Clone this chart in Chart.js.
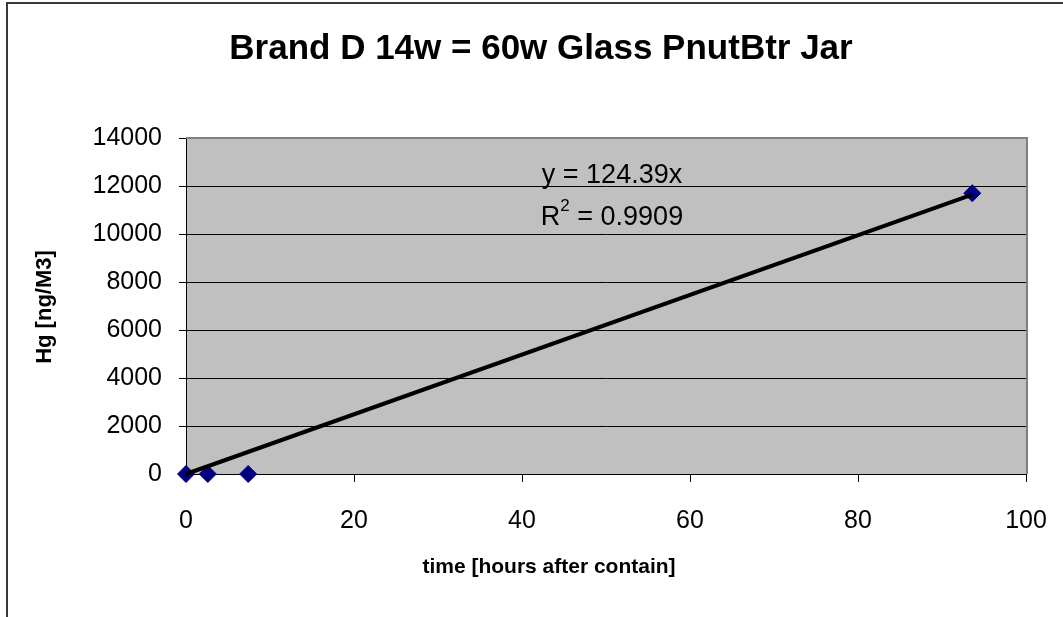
<!DOCTYPE html>
<html>
<head>
<meta charset="utf-8">
<title>Brand D 14w = 60w Glass PnutBtr Jar</title>
<script src="https://cdn.jsdelivr.net/npm/chart.js@4.4.0/dist/chart.umd.min.js"></script>
<style>
    html, body { margin: 0; padding: 0; background: #ffffff; overflow: hidden; }
    #wrap { width: 1063px; height: 617px; }
</style>
</head>
<body>
<div id="wrap"><canvas id="hgChart" width="1063" height="617"></canvas></div>
<script>
// Measured mercury vapour in the jar over time
const hoursAfterContain = [0, 2.6, 7.4, 93.6];
const hgNgM3 = [0, 0, 0, 11700];

// Linear trendline through the origin (y = slope * x)
const trendSlope = 124.39;
const trendR2 = 0.9909;

// Axis ticks
const xTickValues = [0, 20, 40, 60, 80, 100];
const yTickValues = [0, 2000, 4000, 6000, 8000, 10000, 12000, 14000];

const chartTitle = 'Brand D 14w = 60w Glass PnutBtr Jar';
const xAxisTitle = 'time [hours after contain]';
const yAxisTitle = 'Hg [ng/M3]';

const FONT = '"Liberation Sans", Arial, sans-serif';

// Build scatter points and the trendline endpoints
function buildPoints() {
    return hoursAfterContain.map((x, i) => ({ x: x, y: hgNgM3[i] }));
}

function buildTrendline() {
    const xMin = Math.min(...hoursAfterContain);
    const xMax = Math.max(...hoursAfterContain);
    return [
        { x: xMin, y: trendSlope * xMin },
        { x: xMax, y: trendSlope * xMax }
    ];
}

// Excel-style chrome: outer frame, grey plot area, titles and trendline label
const excelLook = {
    id: 'excelLook',
    beforeDraw(chart) {
        const ctx = chart.ctx;
        const area = chart.chartArea;
        ctx.save();
        ctx.fillStyle = '#ffffff';
        ctx.fillRect(0, 0, chart.width, chart.height);

        // outer chart frame (left and top edges)
        ctx.strokeStyle = '#3a3a3a';
        ctx.lineWidth = 2;
        ctx.beginPath();
        ctx.moveTo(7, chart.height);
        ctx.lineTo(7, 3);
        ctx.lineTo(chart.width, 3);
        ctx.stroke();

        // plot area background
        ctx.fillStyle = '#c0c0c0';
        ctx.fillRect(area.left, area.top, area.right - area.left, area.bottom - area.top);
        ctx.restore();
    },
    beforeDatasetsDraw(chart) {
        const ctx = chart.ctx;
        const area = chart.chartArea;
        ctx.save();
        ctx.strokeStyle = '#808080';
        ctx.lineWidth = 2;
        ctx.beginPath();
        ctx.moveTo(area.left, area.top);
        ctx.lineTo(area.right + 1, area.top);
        ctx.lineTo(area.right + 1, area.bottom);
        ctx.stroke();
        ctx.restore();
    },
    afterDraw(chart) {
        const ctx = chart.ctx;
        ctx.save();
        ctx.fillStyle = '#000000';

        // chart title
        ctx.font = 'bold 35px ' + FONT;
        ctx.textAlign = 'center';
        ctx.textBaseline = 'alphabetic';
        ctx.fillText(chartTitle, 541, 59);

        // x axis title
        ctx.font = 'bold 21px ' + FONT;
        ctx.textBaseline = 'middle';
        ctx.fillText(xAxisTitle, 549, 567);

        // y axis title
        ctx.save();
        ctx.translate(45, 307);
        ctx.rotate(-Math.PI / 2);
        ctx.font = 'bold 22px ' + FONT;
        ctx.fillText(yAxisTitle, 0, 0);
        ctx.restore();

        // trendline equation and R squared
        const cx = 612;
        ctx.font = '27px ' + FONT;
        ctx.textBaseline = 'alphabetic';
        ctx.textAlign = 'center';
        ctx.fillText('y = ' + trendSlope + 'x', cx, 183);

        const big = '27px ' + FONT;
        const small = '17px ' + FONT;
        const tail = ' = ' + trendR2;
        ctx.font = big;
        const wR = ctx.measureText('R').width;
        const wTail = ctx.measureText(tail).width;
        ctx.font = small;
        const w2 = ctx.measureText('2').width;
        let x = cx - (wR + w2 + wTail) / 2;
        ctx.textAlign = 'left';
        ctx.font = big;
        ctx.fillText('R', x, 225);
        x += wR;
        ctx.font = small;
        ctx.fillText('2', x, 211);
        x += w2;
        ctx.font = big;
        ctx.fillText(tail, x, 225);

        ctx.restore();
    }
};

function initializeHgChart() {
    const ctx = document.getElementById('hgChart');
    if (!ctx) return;

    return new Chart(ctx, {
        type: 'scatter',
        data: {
            datasets: [{
                type: 'line',
                label: 'Linear trend',
                data: buildTrendline(),
                borderColor: '#000000',
                borderWidth: 4,
                pointRadius: 0,
                pointHoverRadius: 0,
                fill: false,
                clip: false,
                order: 0
            }, {
                label: 'Hg',
                data: buildPoints(),
                backgroundColor: '#000080',
                borderColor: '#000080',
                borderWidth: 1,
                pointStyle: 'rectRot',
                pointRadius: 8.5,
                pointHoverRadius: 8.5,
                clip: false,
                order: 1
            }]
        },
        options: {
            responsive: false,
            animation: false,
            devicePixelRatio: 1,
            layout: {
                padding: { top: 138, right: 37, bottom: 0, left: 0 }
            },
            scales: {
                x: {
                    type: 'linear',
                    min: 0,
                    max: 100,
                    afterBuildTicks: scale => {
                        scale.ticks = xTickValues.map(v => ({ value: v }));
                    },
                    afterFit: scale => {
                        scale.height = 143;
                        // the layout padding already leaves room for the end labels
                        scale.paddingLeft = 0;
                        scale.paddingRight = 0;
                    },
                    grid: {
                        drawOnChartArea: false,
                        color: '#000000',
                        tickLength: 8,
                        tickWidth: 1
                    },
                    border: { display: true, color: '#000000', width: 1 },
                    ticks: {
                        color: '#000000',
                        padding: 24,
                        maxRotation: 0,
                        font: { family: FONT, size: 25 }
                    }
                },
                y: {
                    type: 'linear',
                    min: 0,
                    max: 14000,
                    afterBuildTicks: scale => {
                        scale.ticks = yTickValues.map(v => ({ value: v }));
                    },
                    afterFit: scale => { scale.width = 186; },
                    grid: {
                        color: '#000000',
                        lineWidth: 1,
                        tickLength: 7
                    },
                    border: { display: true, color: '#000000', width: 1 },
                    ticks: {
                        color: '#000000',
                        padding: 17,
                        font: { family: FONT, size: 25 },
                        callback: value => String(value)
                    }
                }
            },
            plugins: {
                legend: { display: false },
                title: { display: false },
                tooltip: { enabled: false }
            }
        },
        plugins: [excelLook]
    });
}

initializeHgChart();
</script>
</body>
</html>
